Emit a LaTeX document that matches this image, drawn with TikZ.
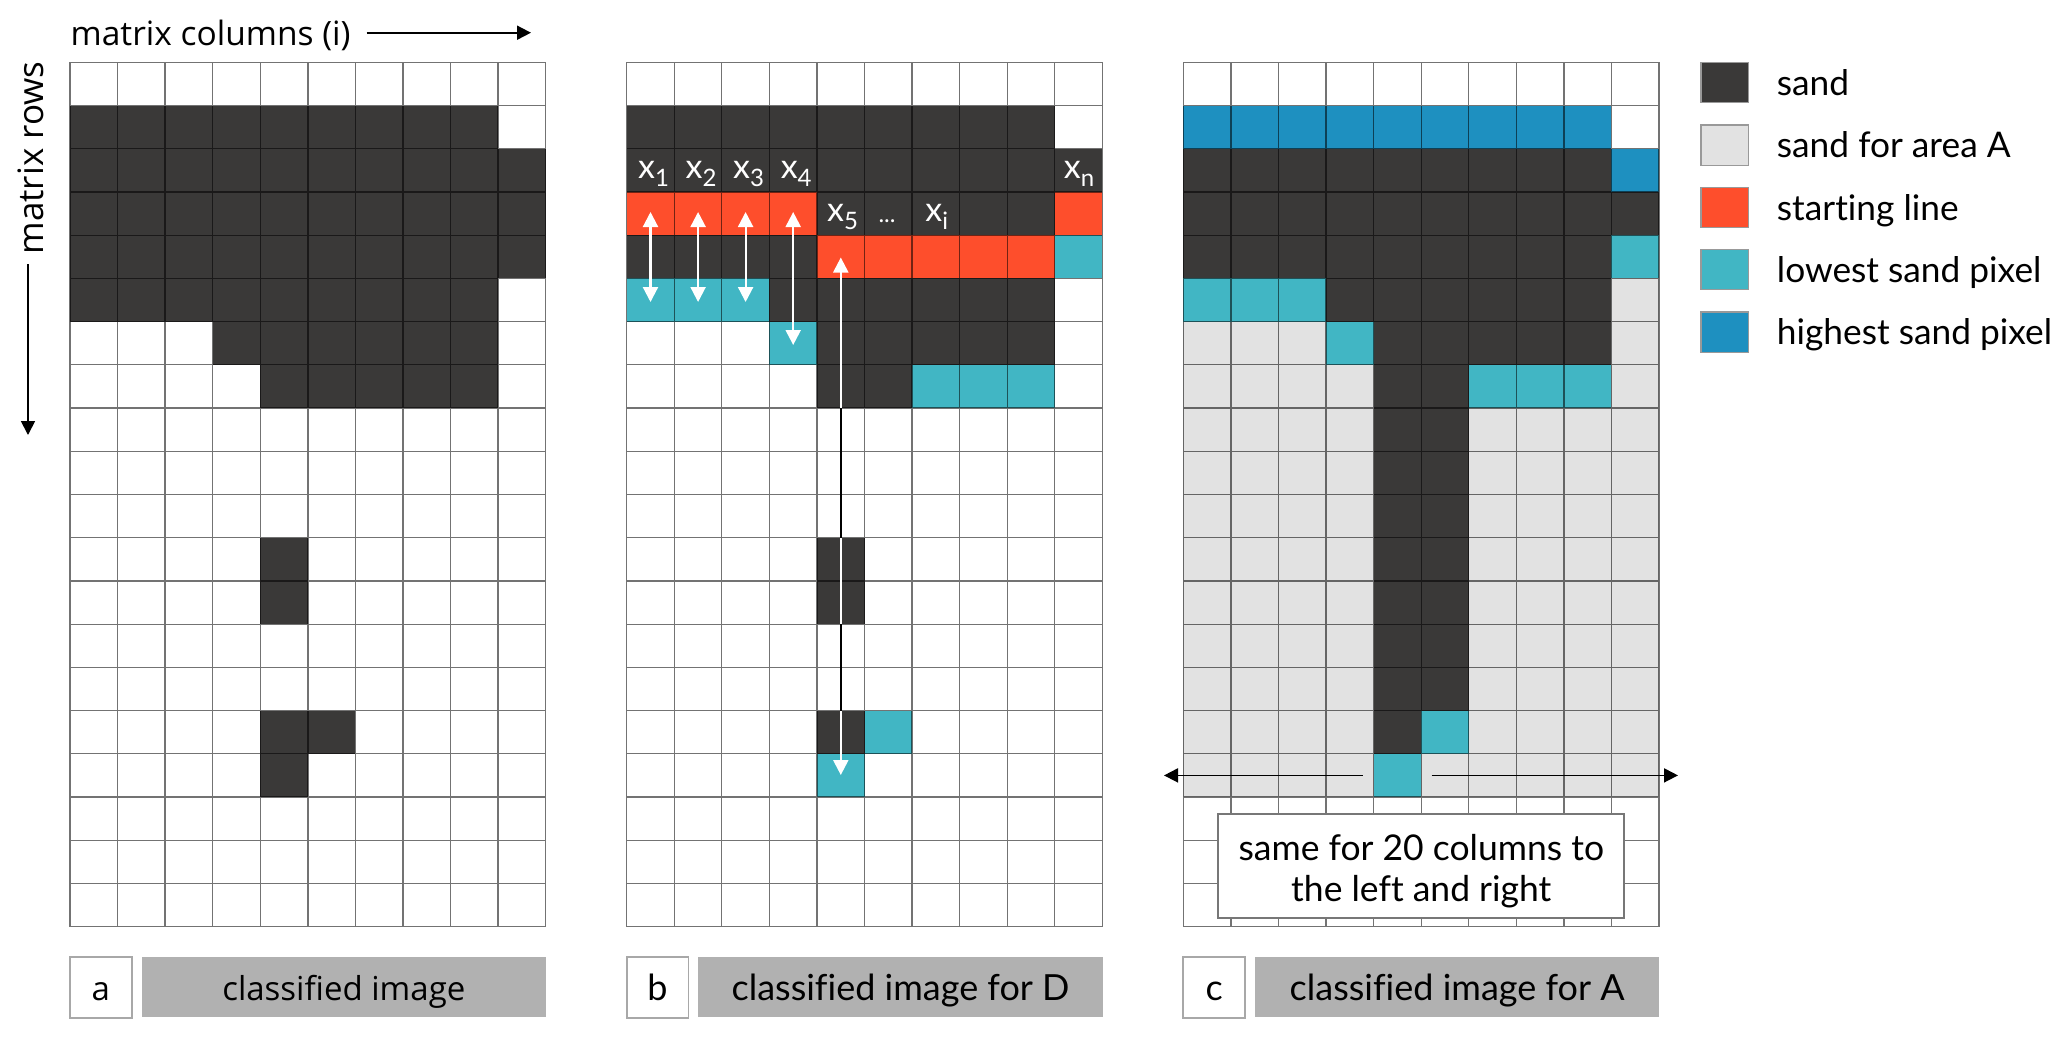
\documentclass[tikz,border=0pt]{standalone}
\usepackage{fontspec}
\setmainfont{Lato}[Ligatures=NoCommon]
\newfontfamily\osans{Open Sans}[Ligatures=NoCommon]
\usetikzlibrary{arrows.meta}
\definecolor{sandc}{HTML}{3A3938}
\definecolor{areac}{HTML}{E2E2E2}
\definecolor{startc}{HTML}{FE4E2C}
\definecolor{lowc}{HTML}{41B6C4}
\definecolor{highc}{HTML}{1E90C0}
\definecolor{labelc}{HTML}{B1B1B1}
\definecolor{framec}{HTML}{A8A8A8}
\definecolor{boxframe}{HTML}{777777}
\def\T{62.3}\def\RH{43.22}\def\CW{47.57}
% left, col from, col to, row from, row to, colour
\newcommand\blk[6]{\fill[#6] ({#1+#2*\CW},{\T+#4*\RH}) rectangle ({#1+(#3+1)*\CW},{\T+(#5+1)*\RH});}
\newcommand\gridat[1]{\draw[black,draw opacity=.55,line width=1.3]
  \foreach \i in {0,...,10}{({#1+\i*\CW},\T) -- ({#1+\i*\CW},{\T+20*\RH})}
  \foreach \j in {0,...,20}{(#1,{\T+\j*\RH}) -- ({#1+10*\CW},{\T+\j*\RH})};}
\newcommand\xs[1]{x\raisebox{-8pt}{\fontsize{24}{24}\selectfont #1}}
\begin{document}
\begin{tikzpicture}[x=1pt,y=-1pt,
  smallbox/.style={draw=framec,fill=white,line width=1.8,minimum width=61.7,minimum height=61,inner sep=0,text height=26pt,text depth=0pt},
  graybox/.style={fill=labelc,minimum width=404.3,minimum height=60,inner sep=0,text height=26pt,text depth=0pt},
  legsq/.style={draw=black!40,line width=1.2,minimum width=47.7,minimum height=40.3,inner sep=0},
  legtext/.style={anchor=base west,inner sep=0,font=\fontsize{35.3}{40}\selectfont},
  xlab/.style={anchor=base,inner sep=0,text=white,font=\fontsize{34}{34}\selectfont},
  warrow/.style={white,line width=2.2,{Triangle[length=15,width=15]}-{Triangle[length=15,width=15]}},
  barrow/.style={black,line width=1.8,-{Triangle[length=14,width=14]}}]
\useasboundingbox (0,0) rectangle (2067,1037);
\fill[white] (0,0) rectangle (2067,1037);

% ---------- panel a ----------
\foreach \a/\b/\r/\s in {0/8/1/1,0/9/2/4,0/8/5/5,3/8/6/6,4/8/7/7,4/4/11/12,4/5/15/15,4/4/16/16}
  {\blk{70}{\a}{\b}{\r}{\s}{sandc}}
\gridat{70}

% ---------- panel b ----------
\foreach \a/\b/\r/\s/\c in {0/8/1/1/sandc,0/9/2/2/sandc,0/3/3/3/startc,4/8/3/3/sandc,9/9/3/3/startc,
  0/3/4/4/sandc,4/8/4/4/startc,9/9/4/4/lowc,0/2/5/5/lowc,3/8/5/5/sandc,3/3/6/6/lowc,4/8/6/6/sandc,
  4/5/7/7/sandc,6/8/7/7/lowc,4/4/11/12/sandc,4/4/15/15/sandc,5/5/15/15/lowc,4/4/16/16/lowc}
  {\blk{626.7}{\a}{\b}{\r}{\s}{\c}}
\gridat{626.7}

% ---------- panel c ----------
\foreach \a/\b/\r/\s/\c in {0/9/5/16/areac,0/8/1/1/highc,0/8/2/2/sandc,9/9/2/2/highc,0/9/3/3/sandc,
  0/8/4/4/sandc,9/9/4/4/lowc,0/2/5/5/lowc,3/8/5/5/sandc,3/3/6/6/lowc,4/8/6/6/sandc,
  4/5/7/14/sandc,6/8/7/7/lowc,4/4/15/15/sandc,5/5/15/15/lowc,4/4/16/16/lowc}
  {\blk{1183.3}{\a}{\b}{\r}{\s}{\c}}
\gridat{1183.3}

% ---------- axis labels ----------
\node[anchor=base west,inner sep=0,font=\osans\fontsize{33.5}{33}\selectfont] (mcol) at (70.5,45) {matrix columns (i)};
\coordinate (mcA) at (366.7,32.7);
\coordinate (mcB) at (531,32.7);
\draw[barrow] (mcA) -- (mcB);
\node[rotate=90,inner sep=0,font=\osans\fontsize{35}{35}\selectfont] (mrow) at (31,158) {matrix rows};
\coordinate (mrA) at (28,264);
\coordinate (mrB) at (28,435);
\draw[barrow] (mrA) -- (mrB);

% ---------- panel b labels ----------
\node[xlab] (x1) at (653.5,178.3) {\xs{1}};
\node[xlab] (x2) at (701.1,178.3) {\xs{2}};
\node[xlab] (x3) at (748.6,178.3) {\xs{3}};
\node[xlab] (x4) at (796.2,178.3) {\xs{4}};
\node[xlab] (xn) at (1079,178.3) {\xs{n}};
\node[xlab] (x5) at (842.5,221.7) {\xs{5}};
\node[xlab,font=\fontsize{24}{24}\selectfont] (xd) at (887,222.5) {...};
\node[xlab] (xi) at (936.7,221.7) {\xs{i}};

% ---------- panel b arrows ----------
\coordinate (a0t) at (650.5,212); \coordinate (a0b) at (650.5,302);
\coordinate (a1t) at (698.1,212); \coordinate (a1b) at (698.1,302);
\coordinate (a2t) at (745.6,212); \coordinate (a2b) at (745.6,302);
\coordinate (a3t) at (793.2,212); \coordinate (a3b) at (793.2,345);
\coordinate (a4t) at (840.8,257.5); \coordinate (a4b) at (840.8,775);
\draw[warrow] (a0t) -- (a0b);
\draw[warrow] (a1t) -- (a1b);
\draw[warrow] (a2t) -- (a2b);
\draw[warrow] (a3t) -- (a3b);
\draw[warrow] (a4t) -- (a4b);
\coordinate (s1a) at (840.8,408.1); \coordinate (s1b) at (840.8,537.7);
\coordinate (s2a) at (840.8,624.2); \coordinate (s2b) at (840.8,710.6);
\draw[black,line width=2] (s1a) -- (s1b) (s2a) -- (s2b);

% ---------- panel c arrows and note ----------
\node[draw=boxframe,fill=white,line width=1.8,minimum width=406,minimum height=103.7,inner sep=0] (note) at (1421.3,865.9) {};
\node[align=center,inner sep=0,font=\fontsize{35.5}{41.5}\selectfont] (notetext) at (1421.3,871) {same for 20 columns to\\the left and right};
\coordinate (cl0) at (1362.7,775.4); \coordinate (cl1) at (1164,775.4);
\coordinate (cr0) at (1431.6,775.4); \coordinate (cr1) at (1678,775.4);
\draw[barrow] (cl0) -- (cl1);
\draw[barrow] (cr0) -- (cr1);

% ---------- bottom labels ----------
\node[smallbox,font=\osans\fontsize{33}{33}\selectfont] (la) at (100.85,987.2) {a};
\node[graybox,font=\osans\fontsize{33}{33}\selectfont] (ga) at (343.85,987) {classified image};
\node[smallbox,font=\fontsize{36}{36}\selectfont] (lb) at (657.55,987.2) {b};
\node[graybox,font=\fontsize{36}{36}\selectfont] (gb) at (900.55,987) {classified image for D};
\node[smallbox,font=\fontsize{36}{36}\selectfont] (lc) at (1214.15,987.2) {c};
\node[graybox,font=\fontsize{36}{36}\selectfont] (gc) at (1457.15,987) {classified image for A};

% ---------- legend ----------
\node[legsq,fill=sandc] (k1) at (1724.85,82.5) {};
\node[legsq,fill=areac] (k2) at (1724.85,145.1) {};
\node[legsq,fill=startc] (k3) at (1724.85,207.5) {};
\node[legsq,fill=lowc] (k4) at (1724.85,269.7) {};
\node[legsq,fill=highc] (k5) at (1724.85,332.1) {};
\node[legtext] (t1) at (1776.7,95) {sand};
\node[legtext] (t2) at (1776.7,157.6) {sand for area A};
\node[legtext] (t3) at (1776.7,220) {starting line};
\node[legtext] (t4) at (1776.7,282.2) {lowest sand pixel};
\node[legtext] (t5) at (1776.7,344.6) {highest sand pixel};
\end{tikzpicture}
\end{document}
